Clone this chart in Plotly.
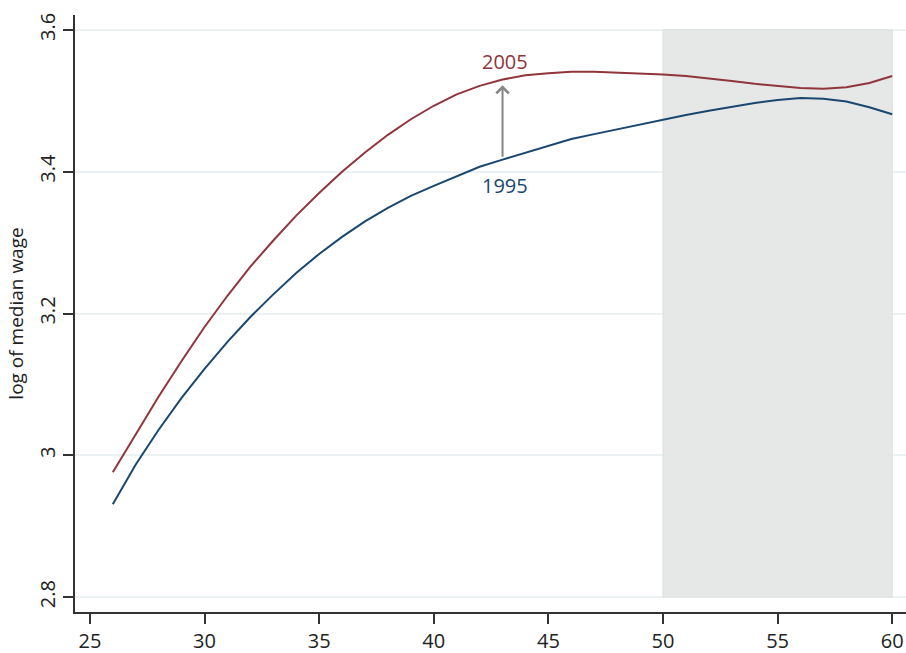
import plotly.graph_objects as go

ages = list(range(26, 61))
wage_2005 = [2.976, 3.030, 3.083, 3.133, 3.181, 3.225, 3.266, 3.303, 3.338, 3.370,
             3.400, 3.427, 3.452, 3.474, 3.493, 3.509, 3.521, 3.530, 3.536, 3.539,
             3.541, 3.541, 3.540, 3.539, 3.537, 3.535, 3.532, 3.528, 3.524, 3.521,
             3.518, 3.517, 3.519, 3.525, 3.535]
wage_1995 = [2.931, 2.987, 3.036, 3.081, 3.122, 3.160, 3.195, 3.227, 3.257, 3.284,
             3.308, 3.330, 3.349, 3.366, 3.380, 3.394, 3.407, 3.417, 3.427, 3.437,
             3.446, 3.453, 3.460, 3.467, 3.474, 3.480, 3.486, 3.492, 3.497, 3.501,
             3.504, 3.503, 3.499, 3.491, 3.481]
x_ticks = [25, 30, 35, 40, 45, 50, 55, 60]
y_ticks = [2.8, 3.0, 3.2, 3.4, 3.6]
y_tick_text = ["2.8", "3", "3.2", "3.4", "3.6"]
shade_x = [50, 60]
arrow_x = 43
arrow_y = [3.419, 3.522]
label_2005 = (43.1, 3.556)
label_1995 = (43.1, 3.381)

RED = "#90353B"
BLUE = "#1A476F"
FONT = "Open Sans"

fig = go.Figure()
fig.add_shape(type="rect", xref="x", yref="y", x0=shade_x[0], x1=shade_x[1],
              y0=2.8, y1=3.6, fillcolor="#E6E7E7", line=dict(color="#DEDFE0", width=1),
              layer="between")
fig.add_trace(go.Scatter(x=ages, y=wage_1995, mode="lines", line=dict(color=BLUE, width=2),
                         showlegend=False))
fig.add_trace(go.Scatter(x=ages, y=wage_2005, mode="lines", line=dict(color=RED, width=2),
                         showlegend=False))

fig.add_annotation(x=arrow_x, y=arrow_y[1], ax=arrow_x, ay=arrow_y[0], xref="x", yref="y",
                   axref="x", ayref="y", showarrow=True, arrowhead=4, arrowsize=1.2,
                   arrowwidth=2, arrowcolor="#858585", text="")
fig.add_annotation(x=label_2005[0], y=label_2005[1], text="2005", showarrow=False,
                   font=dict(family=FONT, size=20, color=RED))
fig.add_annotation(x=label_1995[0], y=label_1995[1], text="1995", showarrow=False,
                   font=dict(family=FONT, size=20, color=BLUE))

fig.update_layout(
    width=906, height=653,
    margin=dict(l=75, r=0, t=15, b=41),
    paper_bgcolor="white", plot_bgcolor="white",
    font=dict(family=FONT, size=20, color="#222222"),
)
fig.update_xaxes(range=[24.35, 60.6], tickvals=x_ticks, showgrid=False, zeroline=False,
                 showline=True, linecolor="#333333", linewidth=1.5,
                 ticks="outside", ticklen=10, tickwidth=1.5, tickcolor="#333333",
                 tickfont=dict(size=20))
fig.update_yaxes(range=[2.779, 3.621], tickvals=y_ticks, ticktext=y_tick_text,
                 tickangle=-90, showgrid=True, gridcolor="#EAF2F3", gridwidth=2,
                 zeroline=False, showline=True, linecolor="#333333", linewidth=1.5,
                 ticks="outside", ticklen=10, tickwidth=1.5, tickcolor="#333333",
                 tickfont=dict(size=20),
                 title=dict(text="log of median wage", font=dict(size=19), standoff=6))

fig.write_html("out.html", config={"displayModeBar": False},
               post_script="document.body.style.margin='0';document.body.style.overflow='hidden';")
